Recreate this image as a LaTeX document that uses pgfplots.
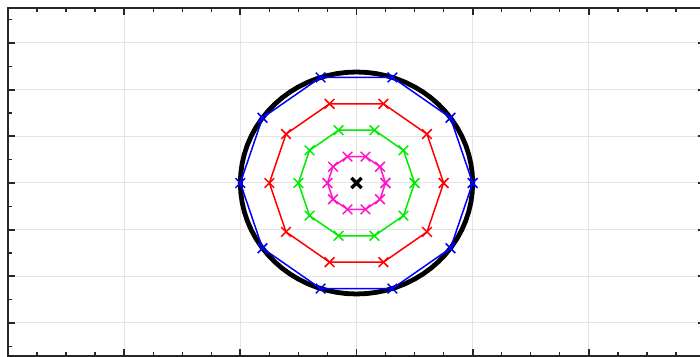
\documentclass[border=0pt]{standalone}
\usepackage{pgfplots}
\pgfplotsset{compat=1.18}

\definecolor{axgray}{RGB}{38,38,38}
\definecolor{gridgray}{RGB}{228,228,228}
\definecolor{ringblue}{RGB}{0,0,255}
\definecolor{ringred}{RGB}{255,0,0}
\definecolor{ringgreen}{RGB}{0,235,0}
\definecolor{ringpink}{RGB}{255,20,200}

\begin{document}
\begin{tikzpicture}
\begin{axis}[
  at={(4pt,0.5pt)}, anchor=south west,
  scale only axis,
  width=348.5pt, height=174pt,
  xmin=-3, xmax=3,
  ymin=-1.5586, ymax=1.5766,
  xtick={-3,-2,-1,0,1,2,3},
  minor x tick num=3,
  ytick={-1.2613,-0.8408,-0.4204,0,0.4204,0.8408,1.2613},
  minor ytick={-1.4715,-1.0511,-0.6306,-0.2102,0.2102,0.6306,1.0511,1.4715},
  xticklabels={}, yticklabels={},
  xtick pos=both, ytick pos=both,
  tick align=inside,
  major tick length=3.5pt, minor tick length=2pt,
  every major tick/.style={axgray, line width=0.9pt},
  every minor tick/.style={axgray, line width=0.7pt},
  axis line style={axgray, line width=0.75pt},
  grid=major,
  major grid style={gridgray, line width=0.5pt},
  clip=false,
  ring/.style={line width=0.75pt, mark=x, mark size=3.4pt,
    mark options={line width=0.75pt}},
]
% outer reference circle, radius 1
\addplot[black, line width=2.4pt, line join=round] coordinates {
(1,0) (0.9962,0.0872) (0.9848,0.1736) (0.9659,0.2588) (0.9397,0.3420) (0.9063,0.4226)
(0.8660,0.5) (0.8192,0.5736) (0.7660,0.6428) (0.7071,0.7071) (0.6428,0.7660) (0.5736,0.8192)
(0.5,0.8660) (0.4226,0.9063) (0.3420,0.9397) (0.2588,0.9659) (0.1736,0.9848) (0.0872,0.9962)
(0,1) (-0.0872,0.9962) (-0.1736,0.9848) (-0.2588,0.9659) (-0.3420,0.9397) (-0.4226,0.9063)
(-0.5,0.8660) (-0.5736,0.8192) (-0.6428,0.7660) (-0.7071,0.7071) (-0.7660,0.6428) (-0.8192,0.5736)
(-0.8660,0.5) (-0.9063,0.4226) (-0.9397,0.3420) (-0.9659,0.2588) (-0.9848,0.1736) (-0.9962,0.0872)
(-1,0) (-0.9962,-0.0872) (-0.9848,-0.1736) (-0.9659,-0.2588) (-0.9397,-0.3420) (-0.9063,-0.4226)
(-0.8660,-0.5) (-0.8192,-0.5736) (-0.7660,-0.6428) (-0.7071,-0.7071) (-0.6428,-0.7660) (-0.5736,-0.8192)
(-0.5,-0.8660) (-0.4226,-0.9063) (-0.3420,-0.9397) (-0.2588,-0.9659) (-0.1736,-0.9848) (-0.0872,-0.9962)
(0,-1) (0.0872,-0.9962) (0.1736,-0.9848) (0.2588,-0.9659) (0.3420,-0.9397) (0.4226,-0.9063)
(0.5,-0.8660) (0.5736,-0.8192) (0.6428,-0.7660) (0.7071,-0.7071) (0.7660,-0.6428) (0.8192,-0.5736)
(0.8660,-0.5) (0.9063,-0.4226) (0.9397,-0.3420) (0.9659,-0.2588) (0.9848,-0.1736) (0.9962,-0.0872)
(1,0)
};
% decagon rings, vertices every 36 degrees
\addplot[ringblue, ring] coordinates {
(1,0) (0.8090,0.5878) (0.3090,0.9511) (-0.3090,0.9511) (-0.8090,0.5878)
(-1,0) (-0.8090,-0.5878) (-0.3090,-0.9511) (0.3090,-0.9511) (0.8090,-0.5878) (1,0)
};
\addplot[ringred, ring] coordinates {
(0.75,0) (0.6068,0.4408) (0.2318,0.7133) (-0.2318,0.7133) (-0.6068,0.4408)
(-0.75,0) (-0.6068,-0.4408) (-0.2318,-0.7133) (0.2318,-0.7133) (0.6068,-0.4408) (0.75,0)
};
\addplot[ringgreen, ring] coordinates {
(0.5,0) (0.4045,0.2939) (0.1545,0.4755) (-0.1545,0.4755) (-0.4045,0.2939)
(-0.5,0) (-0.4045,-0.2939) (-0.1545,-0.4755) (0.1545,-0.4755) (0.4045,-0.2939) (0.5,0)
};
\addplot[ringpink, ring] coordinates {
(0.25,0) (0.2023,0.1469) (0.0773,0.2378) (-0.0773,0.2378) (-0.2023,0.1469)
(-0.25,0) (-0.2023,-0.1469) (-0.0773,-0.2378) (0.0773,-0.2378) (0.2023,-0.1469) (0.25,0)
};
% centre
\addplot[black, only marks, mark=x, mark size=3.6pt, mark options={line width=1.6pt}] coordinates {(0,0)};
\end{axis}
\pgfresetboundingbox
\path[use as bounding box] (0,0) rectangle (350pt,178.5pt);
\end{tikzpicture}
\end{document}
